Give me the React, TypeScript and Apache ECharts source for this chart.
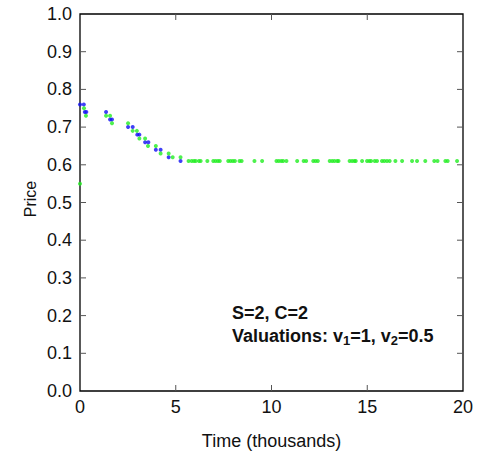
import React, { useEffect, useRef } from "react";
import * as echarts from "echarts";

const blueTimes = [0, 0.2, 0.25, 0.33, 1.36, 1.57, 1.67, 2.51, 2.75, 2.99, 3.1, 3.4, 3.57, 3.96, 4.21, 4.63, 5.25];
const bluePrices = [0.76, 0.76, 0.74, 0.74, 0.74, 0.72, 0.72, 0.7, 0.7, 0.68, 0.68, 0.66, 0.66, 0.64, 0.64, 0.62, 0.61];

const greenTimes = [
  0, 0.21, 0.31, 1.36, 1.57, 1.67, 2.51, 2.75, 2.97, 3.1, 3.4, 3.55, 3.96, 4.21, 4.63, 4.84, 5.25,
  5.67, 5.83, 5.95, 6.04, 6.21, 6.3, 6.65, 6.96, 7.08, 7.2, 7.3, 7.74, 7.86, 7.98, 8.09, 8.33, 8.44,
  9.11, 9.51, 10.26, 10.38, 10.51, 10.61, 10.78, 11.34, 11.68, 11.81, 12.18, 12.3, 12.42, 13.04,
  13.17, 13.29, 13.43, 13.5, 14.08, 14.21, 14.33, 14.4, 14.73, 14.99, 15.11, 15.2, 15.39, 15.51,
  15.77, 15.89, 16.03, 16.17, 16.47, 16.82, 17.34, 17.6, 18.03, 18.5, 18.67, 19.08, 19.2, 19.69,
];
const greenPricesHead = [0.55, 0.75, 0.73, 0.73, 0.73, 0.71, 0.71, 0.69, 0.69, 0.67, 0.67, 0.65, 0.65, 0.63, 0.63, 0.62, 0.62];
const steadyPrice = 0.61;

const xTicks = [0, 5, 10, 15, 20];
const yTicks = [0, 0.1, 0.2, 0.3, 0.4, 0.5, 0.6, 0.7, 0.8, 0.9, 1.0];

const xTitle = "Time (thousands)";
const yTitle = "Price";
const annotationLine1 = "S=2, C=2";

export default function App() {
  const ref = useRef<HTMLDivElement>(null);
  useEffect(() => {
    if (!ref.current) return;
    const chart = echarts.init(ref.current, null, { renderer: "svg" });
    const greenData = greenTimes.map((t, i) => [t, i < greenPricesHead.length ? greenPricesHead[i] : steadyPrice]);
    const blueData = blueTimes.map((t, i) => [t, bluePrices[i]]);
    const xMin = xTicks[0];
    const xMax = xTicks[xTicks.length - 1];
    const yMin = yTicks[0];
    const yMax = yTicks[yTicks.length - 1];
    const tickData = [
      ...xTicks.filter((v) => v !== xMin && v !== xMax).map((v) => [0, v]),
      ...yTicks.filter((v) => v !== yMin && v !== yMax).map((v) => [1, v]),
    ];
    const font = "Liberation Sans, Arial, Helvetica, sans-serif";
    const tickStyle = { stroke: "#555", lineWidth: 1 };
    const TL = 6;
    chart.setOption({
      animation: false,
      backgroundColor: "#fff",
      textStyle: { fontFamily: font },
      grid: {
        left: 80,
        top: 14,
        width: 383,
        height: 383,
        containLabel: false,
        show: true,
        borderColor: "#000",
        borderWidth: 1.3,
        backgroundColor: "transparent",
      },
      xAxis: {
        type: "value",
        min: xMin,
        max: xMax,
        interval: 5,
        position: "bottom",
        name: xTitle,
        nameLocation: "middle",
        nameGap: 41,
        nameTextStyle: { fontSize: 18, color: "#111", fontFamily: font },
        axisLine: { show: false },
        axisTick: { show: false },
        axisLabel: { fontSize: 18, color: "#111", margin: 7, fontFamily: font },
        splitLine: { show: false },
      },
      yAxis: {
        type: "value",
        min: yMin,
        max: yMax,
        interval: 0.1,
        position: "left",
        axisLine: { show: false },
        axisTick: { show: false },
        axisLabel: { fontSize: 18, color: "#111", margin: 8, fontFamily: font, formatter: (v: number) => v.toFixed(1) },
        splitLine: { show: false },
      },
      series: [
        {
          type: "custom",
          name: "ticks",
          silent: true,
          data: tickData,
          renderItem: (params: any, api: any) => {
            const kind = api.value(0);
            const v = api.value(1);
            if (kind === 0) {
              const b = api.coord([v, yMin]);
              const t = api.coord([v, yMax]);
              return {
                type: "group",
                children: [
                  { type: "line", shape: { x1: b[0], y1: b[1], x2: b[0], y2: b[1] - TL }, style: tickStyle },
                  { type: "line", shape: { x1: t[0], y1: t[1], x2: t[0], y2: t[1] + TL }, style: tickStyle },
                ],
              };
            }
            const l = api.coord([xMin, v]);
            const r = api.coord([xMax, v]);
            return {
              type: "group",
              children: [
                { type: "line", shape: { x1: l[0], y1: l[1], x2: l[0] + TL, y2: l[1] }, style: tickStyle },
                { type: "line", shape: { x1: r[0], y1: r[1], x2: r[0] - TL, y2: r[1] }, style: tickStyle },
              ],
            };
          },
        },
        {
          type: "scatter",
          name: "blue",
          data: blueData,
          symbol: "circle",
          symbolSize: 4,
          itemStyle: { color: "#1010f4" },
        },
        {
          type: "scatter",
          name: "green",
          data: greenData,
          symbol: "circle",
          symbolSize: 4,
          itemStyle: { color: "#22ee22" },
        },
      ],
      graphic: [
        {
          type: "text",
          x: 30,
          y: 199,
          rotation: Math.PI / 2,
          style: {
            text: yTitle,
            font: `16px ${font}`,
            fill: "#111",
            align: "center",
            verticalAlign: "middle",
          },
        },
        {
          type: "text",
          left: 232,
          top: 304,
          style: {
            text: annotationLine1,
            font: `bold 18px ${font}`,
            fill: "#111",
          },
        },
        {
          type: "text",
          left: 232,
          top: 327,
          style: {
            text: "Valuations: v{sub|1}=1, v{sub|2}=0.5",
            font: `bold 18px ${font}`,
            fill: "#111",
            rich: {
              sub: { font: `bold 13px ${font}`, fill: "#111", verticalAlign: "bottom", padding: [9, 0, 0, 0] },
            },
          },
        },
      ],
    });
    return () => chart.dispose();
  }, []);
  return <div ref={ref} style={{ position: "fixed", left: 0, top: 0, width: 479, height: 455 }} />;
}
